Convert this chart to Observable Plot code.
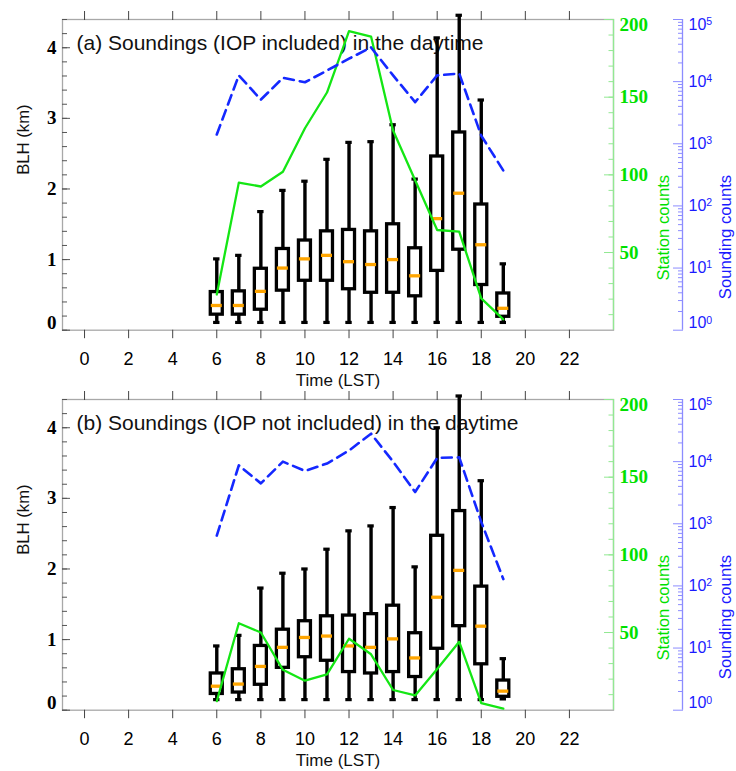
<!DOCTYPE html>
<html>
<head>
<meta charset="utf-8">
<script src="https://cdn.jsdelivr.net/npm/d3@7"></script>
<script src="https://cdn.jsdelivr.net/npm/@observablehq/plot@0.6"></script>
<style>
  body { margin: 0; background: #fff; }
  #chart { position: relative; width: 736px; height: 771px; background: #fff; }
  .panel { position: absolute; left: 0; width: 736px; }
  .panel svg { position: absolute; left: 0; top: 0; }
</style>
</head>
<body>
<div id="chart"></div>
<script>
// ---------------- data ----------------
const hours = [6, 7, 8, 9, 10, 11, 12, 13, 14, 15, 16, 17, 18, 19];

// (a) IOP included — BLH box statistics (km)
const aLow  = [0.11, 0.11, 0.11, 0.11, 0.11, 0.11, 0.11, 0.11, 0.11, 0.11, 0.11, 0.11, 0.11, 0.11];
const aQ1   = [0.22, 0.22, 0.29, 0.56, 0.70, 0.70, 0.58, 0.53, 0.53, 0.48, 0.84, 1.14, 0.64, 0.19];
const aMed  = [0.35, 0.35, 0.55, 0.88, 1.01, 1.06, 0.97, 0.93, 1.00, 0.77, 1.58, 1.94, 1.21, 0.31];
const aQ3   = [0.54, 0.55, 0.87, 1.15, 1.27, 1.40, 1.42, 1.40, 1.50, 1.16, 2.46, 2.80, 1.78, 0.52];
const aHigh = [1.01, 1.06, 1.68, 1.98, 2.11, 2.42, 2.66, 2.67, 2.91, 2.14, 4.14, 4.46, 3.26, 0.94];
const aStations  = [23, 95, 92.5, 102, 130, 153, 192.5, 189, 128.5, 96.5, 64.5, 63.5, 20.5, 7];
const aSoundings = [1410, 12600, 5130, 11500, 9770, 15100, 23400, 35500, 12600, 4680, 12600, 13500, 1350, 372];

// (b) IOP not included
const bLow  = [0.15, 0.15, 0.15, 0.15, 0.15, 0.15, 0.15, 0.15, 0.15, 0.15, 0.15, 0.15, 0.15, 0.16];
const bQ1   = [0.23, 0.25, 0.36, 0.60, 0.75, 0.70, 0.54, 0.52, 0.54, 0.47, 0.87, 1.19, 0.65, 0.19];
const bMed  = [0.34, 0.37, 0.62, 0.89, 1.03, 1.05, 0.91, 0.89, 1.01, 0.74, 1.60, 1.98, 1.19, 0.27];
const bQ3   = [0.52, 0.58, 0.91, 1.14, 1.26, 1.33, 1.34, 1.36, 1.48, 1.09, 2.47, 2.82, 1.75, 0.42];
const bHigh = [0.91, 1.06, 1.73, 1.94, 2.00, 2.28, 2.54, 2.61, 2.87, 2.03, 4.00, 4.45, 3.25, 0.73];
const bStations  = [5.8, 56, 50, 26, 19, 23, 46, 36, 13, 9.5, 26.5, 44, 4.5, 1];
const bSoundings = [646, 8710, 4470, 10000, 7080, 9330, 15100, 28200, 10000, 3240, 11500, 11700, 1070, 129];

// ticks & labels
const xTicks = [0, 2, 4, 6, 8, 10, 12, 14, 16, 18, 20, 22];
const kmTicks = [0, 1, 2, 3, 4];
const kmMinor = d3.range(0, 23).map(i => i / 5);
const stationTicks = [50, 100, 150, 200];
const stationMinor = d3.range(10, 201, 10);
const soundTicks = [1, 10, 100, 1000, 10000, 100000];
const soundMinor = d3.range(0, 5).flatMap(e => d3.range(2, 10).map(k => k * Math.pow(10, e)));
const soundLabel = d => "10^" + Math.round(Math.log10(d));
const titles = ["(a) Soundings (IOP included) in the daytime", "(b) Soundings (IOP not included) in the daytime"];

// ---------------- layout ----------------
const W = 736, H = 391, MT = 19, MB = 61.3, ML = 62, MR = 123;
const SANS = "'Liberation Sans', Arial, Helvetica, sans-serif";
const SERIF = "'Liberation Serif', 'Times New Roman', serif";
const GREEN = "#14e614", GREEN_TXT = "#00e000", GREEN_AX = "#92e892";
const BLUE = "#1428ff", BLUE_TXT = "#1a1aff", BLUE_AX = "#8c8cff";
const transparent = {background: "transparent", overflow: "visible"};
const intFmt = d => String(d);

function boxLayer(rows, title) {
  const serifLab = {fontFamily: SERIF, fontWeight: "bold", fontSize: 19, fill: "#000", tickFormat: intFmt, label: null};
  return Plot.plot({
    width: W, height: H, marginTop: MT, marginBottom: MB, marginLeft: ML, marginRight: MR,
    style: transparent,
    x: {domain: [-1, 24]},
    y: {domain: [0, 4.4]},
    marks: [
      Plot.frame({stroke: "#a8a8a8", strokeWidth: 1.3}),
      Plot.axisX({anchor: "top", ticks: xTicks, tickSize: 9, tickFormat: () => "", stroke: "#444", label: null}),
      Plot.axisX({anchor: "bottom", ticks: xTicks, tickSize: 8.5, tickFormat: () => "", stroke: "#444", label: null}),
      Plot.axisX({anchor: "bottom", ticks: xTicks, tickSize: 0, tickPadding: 22, fontSize: 18, fontFamily: SANS, fill: "#000", tickFormat: intFmt, label: null}),
      Plot.axisY({anchor: "left", ticks: kmMinor, tickSize: -5, tickFormat: () => "", stroke: "#555", label: null}),
      Plot.axisY({anchor: "left", ticks: kmTicks, tickSize: -8, tickFormat: () => "", stroke: "#555", label: null}),
      Plot.axisY({anchor: "left", ticks: kmTicks.filter(d => d > 0), tickSize: 0, tickPadding: 6, ...serifLab}),
      Plot.axisY({anchor: "left", ticks: [0], tickSize: 0, tickPadding: 6, dy: -7, ...serifLab}),
      Plot.text([title], {text: d => d, frameAnchor: "top-left", dx: 14, dy: 24, textAnchor: "start", lineAnchor: "middle", fontSize: 21, fontFamily: SANS, fill: "#111"}),
      Plot.text(["BLH (km)"], {text: d => d, frameAnchor: "left", dx: -39, rotate: -90, lineAnchor: "middle", fontSize: 16.7, fontFamily: SANS, fill: "#111"}),
      Plot.text(["Time (LST)"], {text: d => d, frameAnchor: "bottom", dy: 50, lineAnchor: "middle", fontSize: 17, fontFamily: SANS, fill: "#111"}),
      // whiskers
      Plot.ruleX(rows, {x: "h", y1: "low", y2: "q1", stroke: "#000", strokeWidth: 3.4}),
      Plot.ruleX(rows, {x: "h", y1: "q3", y2: "high", stroke: "#000", strokeWidth: 3.4}),
      Plot.ruleY(rows, {y: "high", x1: "h", x2: "h", insetLeft: -3.2, insetRight: -3.2, stroke: "#000", strokeWidth: 3.2}),
      Plot.ruleY(rows, {y: "low", x1: "h", x2: "h", insetLeft: -3.2, insetRight: -3.2, stroke: "#000", strokeWidth: 3.2}),
      // boxes
      Plot.rect(rows, {x1: "h", x2: "h", y1: "q1", y2: "q3", insetLeft: -6, insetRight: -6, fill: "#fff", stroke: "#000", strokeWidth: 3.3}),
      // medians
      Plot.ruleY(rows, {y: "med", x1: "h", x2: "h", insetLeft: -5.5, insetRight: -5.5, stroke: "#ffa500", strokeWidth: 3.3})
    ]
  });
}

function stationLayer(rows) {
  const lab = {fontFamily: SERIF, fontWeight: "bold", fontSize: 19, fill: GREEN_TXT, tickFormat: intFmt, label: null};
  return Plot.plot({
    width: W, height: H, marginTop: MT, marginBottom: MB, marginLeft: ML, marginRight: MR,
    style: transparent,
    x: {domain: [-1, 24], axis: null},
    y: {domain: [0, 200], axis: null},
    marks: [
      Plot.ruleX([24], {stroke: GREEN_AX, strokeWidth: 1.3}),
      Plot.axisY({anchor: "right", ticks: stationMinor, tickSize: -5.5, tickFormat: () => "", stroke: GREEN_AX, label: null}),
      Plot.axisY({anchor: "right", ticks: stationTicks, tickSize: -10, tickFormat: () => "", stroke: GREEN_AX, label: null}),
      Plot.axisY({anchor: "right", ticks: stationTicks.filter(d => d < 200), tickSize: 0, tickPadding: 6, ...lab}),
      Plot.axisY({anchor: "right", ticks: [200], tickSize: 0, tickPadding: 6, dy: 5, ...lab}),
      Plot.text(["Station counts"], {text: d => d, frameAnchor: "right", dx: 50, rotate: -90, lineAnchor: "middle", fontSize: 16.7, fontFamily: SANS, fill: GREEN_TXT}),
      Plot.line(rows, {x: "h", y: "n", stroke: GREEN, strokeWidth: 2.3})
    ]
  });
}

function soundingLayer(rows) {
  const lab = {fontFamily: SANS, fontSize: 16, fill: BLUE_TXT, tickFormat: soundLabel, label: null};
  const svg = Plot.plot({
    width: W, height: H, marginTop: MT, marginBottom: MB, marginLeft: ML, marginRight: 54,
    style: transparent,
    x: {domain: [-1, 24], range: [ML, W - MR], axis: null},
    y: {type: "log", domain: [1, 1e5], axis: null},
    marks: [
      Plot.ruleX([24], {dx: 69, stroke: BLUE_AX, strokeWidth: 1.3}),
      Plot.axisY({anchor: "right", ticks: soundMinor, tickSize: -5, tickFormat: () => "", stroke: BLUE_AX, label: null}),
      Plot.axisY({anchor: "right", ticks: soundTicks, tickSize: -10, tickFormat: () => "", stroke: BLUE_AX, label: null}),
      Plot.axisY({anchor: "right", ticks: soundTicks.slice(1, 5), tickSize: 0, tickPadding: 6, ...lab}),
      Plot.axisY({anchor: "right", ticks: [1e5], tickSize: 0, tickPadding: 6, dy: 5, ...lab}),
      Plot.axisY({anchor: "right", ticks: [1], tickSize: 0, tickPadding: 6, dy: -7, ...lab}),
      Plot.text(["Sounding counts"], {text: d => d, frameAnchor: "right", dx: 43, rotate: -90, lineAnchor: "middle", fontSize: 16.7, fontFamily: SANS, fill: BLUE_TXT}),
      Plot.line(rows, {x: "h", y: "n", stroke: BLUE, strokeWidth: 2.6, strokeDasharray: "10,6"})
    ]
  });
  svg.querySelectorAll("text").forEach(t => {
    const s = t.textContent;
    if (!s.includes("^")) return;
    const [base, exp] = s.split("^");
    t.textContent = base;
    const ts = document.createElementNS("http://www.w3.org/2000/svg", "tspan");
    ts.setAttribute("dy", "-0.45em");
    ts.setAttribute("font-size", "0.66em");
    ts.textContent = exp;
    t.appendChild(ts);
  });
  return svg;
}

function panel(top, title, low, q1, med, q3, high, stations, soundings) {
  const div = document.createElement("div");
  div.className = "panel";
  div.style.top = top + "px";
  div.style.height = H + "px";
  const rows = hours.map((h, i) => ({h, low: low[i], q1: q1[i], med: med[i], q3: q3[i], high: high[i]}));
  const sRows = hours.map((h, i) => ({h, n: stations[i]}));
  const cRows = hours.map((h, i) => ({h, n: soundings[i]}));
  div.appendChild(boxLayer(rows, title));
  div.appendChild(stationLayer(sRows));
  div.appendChild(soundingLayer(cRows));
  return div;
}

const chart = document.getElementById("chart");
chart.appendChild(panel(0, titles[0], aLow, aQ1, aMed, aQ3, aHigh, aStations, aSoundings));
chart.appendChild(panel(380, titles[1], bLow, bQ1, bMed, bQ3, bHigh, bStations, bSoundings));
</script>
</body>
</html>
